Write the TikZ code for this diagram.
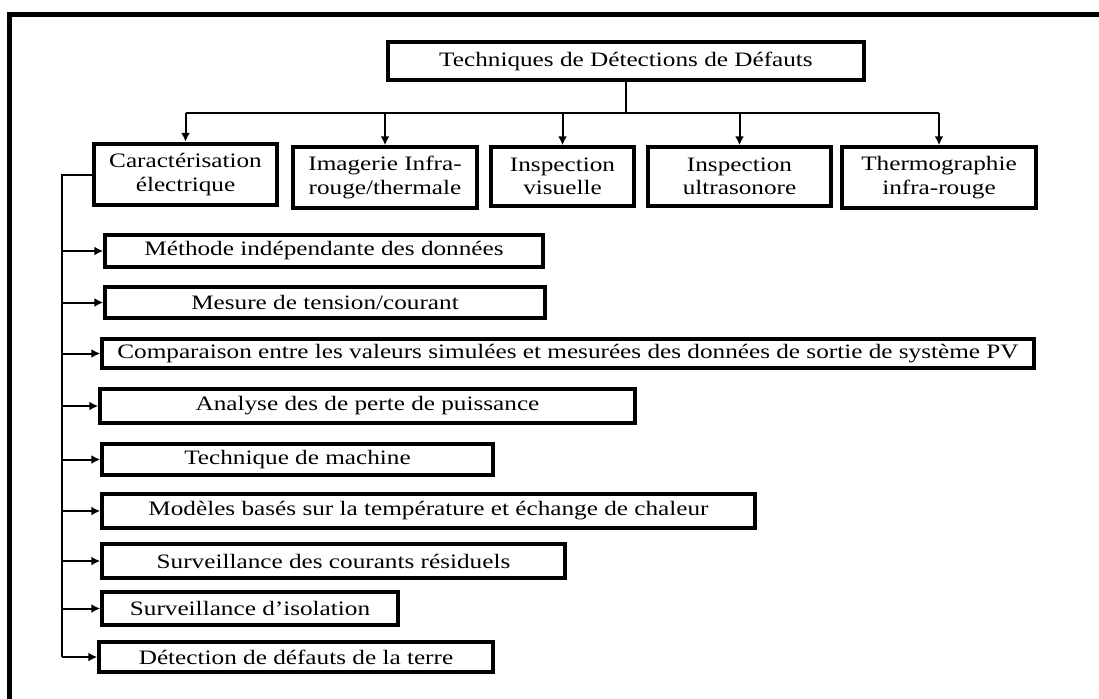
\documentclass[tikz,border=0pt]{standalone}
\usepackage{fontspec}
\setmainfont{Liberation Serif}[FakeStretch=1.23]
\usetikzlibrary{arrows.meta}
\tikzset{
  box/.style={draw, line width=3.5pt, inner sep=0pt, align=center,
    font=\fontsize{20.5}{23.5}\selectfont},
  conn/.style={line width=2pt},
  arr/.style={conn, -{Latex[length=9pt,width=9pt]}},
  frameline/.style={line width=5pt}
}
\begin{document}
\begin{tikzpicture}[x=1pt,y=-1pt]
\clip (0,0) rectangle (1099,698);
\fill[white] (0,0) rectangle (1099,698);
% outer frame (only top and left edges visible)
\draw[frameline] (9.5,720) -- (9.5,14.5) -- (1120,14.5);
% top node
\node[box, minimum width=476, minimum height=38] (t) at (626,61) {Techniques de Détections de Défauts};
% first row
\node[box, line width=4.5pt, minimum width=183, minimum height=61] (c1) at (185.5,174.5) {Caractérisation\\électrique};
\node[box, minimum width=184, minimum height=61] (c2) at (385,177.5) {Imagerie Infra-\\rouge/thermale};
\node[box, minimum width=143, minimum height=59] (c3) at (562.5,176.5) {Inspection\\visuelle};
\node[box, minimum width=183, minimum height=59] (c4) at (739.5,176.5) {Inspection\\ultrasonore};
\node[box, minimum width=194, minimum height=61] (c5) at (939,177.5) {Thermographie\\infra-rouge};
% list
\node[box, minimum width=438, minimum height=32] (l1) at (324,251) {Méthode indépendante des données};
\node[box, minimum width=440, minimum height=31] (l2) at (325,302.5) {Mesure de tension/courant};
\node[box, minimum width=932, minimum height=29] (l3) at (568,353.5) {Comparaison entre les valeurs simulées et mesurées des données de sortie de système PV};
\node[box, minimum width=535, minimum height=34] (l4) at (367.5,406) {Analyse des de perte de puissance};
\node[box, minimum width=391, minimum height=31] (l5) at (297.5,459.5) {Technique de machine};
\node[box, minimum width=653, minimum height=34] (l6) at (428.5,511) {Modèles basés sur la température et échange de chaleur};
\node[box, minimum width=463, minimum height=34] (l7) at (333.5,561) {Surveillance des courants résiduels};
\node[box, minimum width=296, minimum height=33] (l8) at (250,608.5) {Surveillance d’isolation};
\node[box, minimum width=394, minimum height=30] (l9) at (296,657) {Détection de défauts de la terre};
% tree connectors
\coordinate (hub) at (626,113);
\coordinate (jL) at (185.5,113);
\coordinate (jR) at (939,113);
\draw[conn] (t.south) -- (hub);
\draw[conn] (jL) -- (jR);
\foreach \n in {c1,c2,c3,c4,c5}
  \draw[arr] (\n.north |- hub) -- (\n.north);
% spine
\coordinate (sp) at (62,174.5);
\draw[conn] (c1.west) -- (sp) -- (sp |- l9.west);
\foreach \n in {l1,l2,l3,l4,l5,l6,l7,l8,l9}
  \draw[arr] (sp |- \n.west) -- (\n.west);
\end{tikzpicture}
\end{document}
